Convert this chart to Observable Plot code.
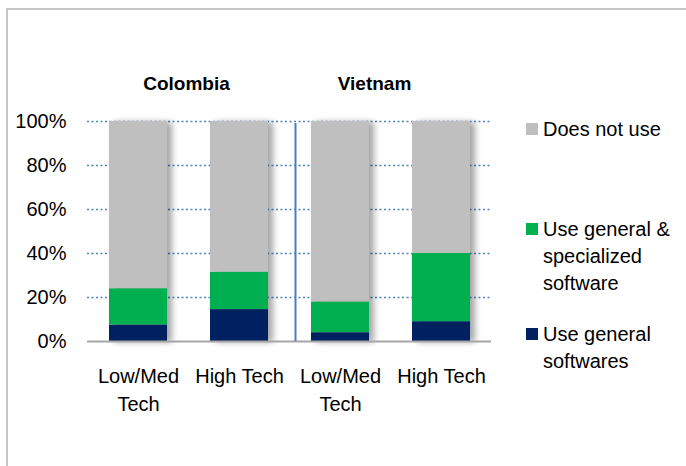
<!DOCTYPE html>
<html><head><meta charset="utf-8">
<script src="https://cdn.jsdelivr.net/npm/d3@7"></script>
<script src="https://cdn.jsdelivr.net/npm/@observablehq/plot@0.6"></script>
<style>
html,body{margin:0;padding:0;background:#fff;overflow:hidden;}
#wrap{position:relative;width:686px;height:466px;font-family:"Liberation Sans",Arial,sans-serif;overflow:hidden;}
#border{position:absolute;left:6px;top:8px;width:720px;height:520px;border-left:2px solid #c6c6c6;border-top:2px solid #c6c6c6;}
#chart{position:absolute;left:0;top:0;}
#chart g[aria-label="bar"]{filter:drop-shadow(5px 1px 3px rgba(0,0,0,0.35));}
.legend-item{position:absolute;left:526px;display:flex;align-items:flex-start;font-size:20px;line-height:27px;color:#000;}
.swatch{width:12px;height:12px;margin-top:7.5px;margin-right:5px;flex:none;}
.legend-item span{width:140px;}
</style></head>
<body><div id="wrap"><div id="border"></div><div id="chart"></div><div id="legend"></div></div>
<script>
const countries = ["Colombia", "Colombia", "Vietnam", "Vietnam"];
const techs = ["Low/Med\nTech", "High Tech", "Low/Med\nTech", "High Tech"];
const useGeneral = [7.5, 14.5, 4, 9];
const useGeneralSpecialized = [16.5, 17, 14, 31];
const doesNotUse = [76, 68.5, 82, 60];
const seriesNames = ["Use general softwares", "Use general & specialized software", "Does not use"];
const seriesColors = ["#002060", "#00b050", "#bfbfbf"];
const legendOrder = ["Does not use", "Use general & specialized software", "Use general softwares"];
const yTicks = [0, 20, 40, 60, 80, 100];
const headers = ["Colombia", "Vietnam"];

const keys = countries.map((c, i) => c + " " + i);
const seriesValues = [useGeneral, useGeneralSpecialized, doesNotUse];
const rows = [];
seriesNames.forEach((s, si) => keys.forEach((k, i) => rows.push({key: k, series: s, value: seriesValues[si][i]})));
const headerKey = h => keys[countries.indexOf(h)];

const font = '"Liberation Sans", Arial, sans-serif';
const chart = Plot.plot({
  width: 686, height: 466,
  marginLeft: 87, marginRight: 195, marginTop: 121, marginBottom: 125,
  style: {fontFamily: font, fontSize: "20px", color: "#000", background: "transparent", overflow: "visible"},
  x: {domain: keys, paddingInner: 0.43, paddingOuter: 0.215, axis: null},
  y: {domain: [0, 100], axis: null},
  color: {domain: seriesNames, range: seriesColors},
  marks: [
    Plot.ruleY(yTicks.filter(d => d > 0), {y: d => d, stroke: "#4f81bd", strokeWidth: 1.5, strokeDasharray: "2,2.5"}),
    Plot.barY(rows, {x: "key", y: "value", fill: "series"}),
    Plot.ruleY([0], {y: d => d, stroke: "#a6a6a6", strokeWidth: 2}),
    Plot.ruleX([keys[2]], {x: d => d, dx: -45, y1: 0, y2: 100, insetBottom: -2, stroke: "#4a7ebb", strokeWidth: 2}),
    Plot.text(yTicks, {y: d => d, text: d => d + "%", frameAnchor: "left", textAnchor: "end", dx: -21, fontSize: 20, fill: "#000"}),
    Plot.text(keys, {x: d => d, text: (d, i) => techs[i], frameAnchor: "bottom", lineAnchor: "top", dy: 22, lineHeight: 1.4, fontSize: 20, fill: "#000"}),
    Plot.text([headers[0]], {x: headerKey, text: d => d, frameAnchor: "top", lineAnchor: "bottom", dx: 48, dy: -32, fontSize: 19, fontWeight: "bold", fill: "#000"}),
    Plot.text([headers[1]], {x: headerKey, text: d => d, frameAnchor: "top", lineAnchor: "bottom", dx: 34, dy: -32, fontSize: 19, fontWeight: "bold", fill: "#000"})
  ]
});
document.getElementById("chart").appendChild(chart);

const legendTops = [115.5, 215.5, 320.5];
const legend = document.getElementById("legend");
legendOrder.forEach((name, i) => {
  const item = document.createElement("div");
  item.className = "legend-item";
  item.style.top = legendTops[i] + "px";
  const sw = document.createElement("div");
  sw.className = "swatch";
  sw.style.background = seriesColors[seriesNames.indexOf(name)];
  const label = document.createElement("span");
  label.textContent = name;
  item.appendChild(sw);
  item.appendChild(label);
  legend.appendChild(item);
});
</script>
</body></html>
